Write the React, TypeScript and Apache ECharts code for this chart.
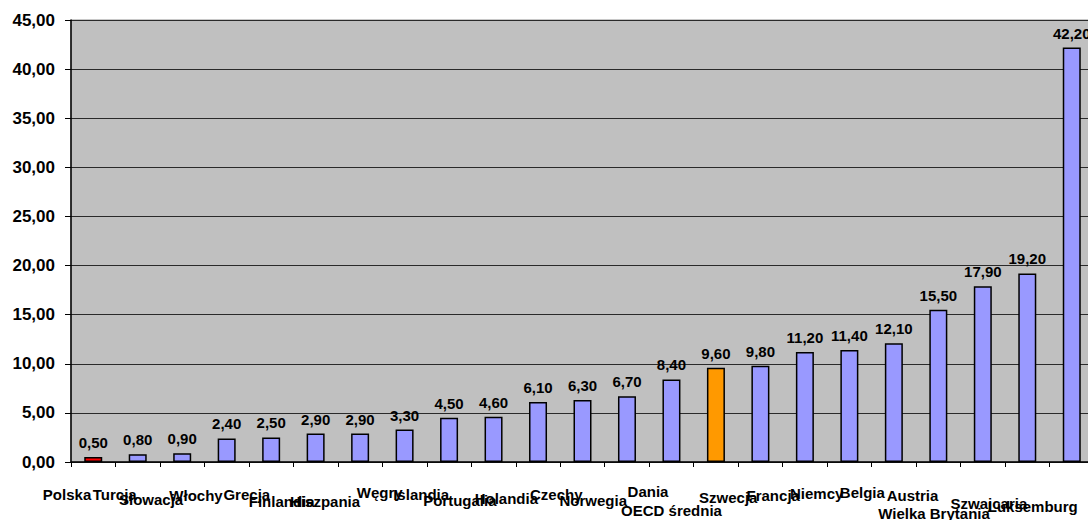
import React, { useEffect, useRef } from "react";
import * as echarts from "echarts";

const categories = [
  "Polska", "Turcja", "Słowacja", "Włochy", "Grecja", "Finlandia", "Hiszpania",
  "Węgry", "Islandia", "Portugalia", "Holandia", "Czechy", "Norwegia", "Dania",
  "OECD średnia", "Szwecja", "Francja", "Niemcy", "Belgia", "Austria",
  "Wielka Brytania", "Szwajcaria", "Luksemburg",
];
const values = [
  0.5, 0.8, 0.9, 2.4, 2.5, 2.9, 2.9, 3.3, 4.5, 4.6, 6.1, 6.3, 6.7, 8.4, 9.6,
  9.8, 11.2, 11.4, 12.1, 15.5, 17.9, 19.2, 42.2,
];
const yTicks = { min: 0, max: 45, interval: 5 };

// layout only: vertical drop of each category label below the axis (px)
const labelDrop = [
  25, 25, 30, 26, 25, 32, 32, 23, 25, 31, 29, 25, 31, 22, 41, 28, 26, 24, 23, 26, 44, 34, 37,
];
// layout only: horizontal nudge of each label's right end from the bar centre (px, + = right)
const labelShift = [
  -2, -1, 1, -4, -1, -1, 0, -2, 0, 3, 0, 0, 0, -3, 6, -3, -5, -6, -9, 0, 7, 0, 6,
];

const FONT = '"Liberation Sans", Arial, sans-serif';
const fmt = (v: number) => v.toFixed(2).replace(".", ",");

function barColor(name: string) {
  if (name === "Polska") return "#FF0000";
  if (name === "OECD średnia") return "#FF9900";
  return "#9999FF";
}

export default function App() {
  const ref = useRef<HTMLDivElement>(null);
  useEffect(() => {
    if (!ref.current) return;
    const chart = echarts.init(ref.current, undefined, { renderer: "svg" });
    chart.setOption({
      animation: false,
      backgroundColor: "#FFFFFF",
      textStyle: { fontFamily: FONT },
      grid: {
        left: 71,
        top: 20,
        right: -6,
        bottom: 58,
        containLabel: false,
        outerBoundsMode: "none",
        show: true,
        backgroundColor: "#C0C0C0",
        borderColor: "#909090",
        borderWidth: 1,
      },
      xAxis: {
        type: "category",
        data: categories.map((c, i) => ({
          value: c,
          textStyle: {
            align: "right",
            verticalAlign: "top",
            padding: [labelDrop[i], -labelShift[i], 0, 0],
            lineHeight: 15,
            fontSize: 15,
            fontWeight: "bold",
            color: "#000000",
            fontFamily: FONT,
          },
        })),
        boundaryGap: true,
        axisLine: { show: true, lineStyle: { color: "#000000", width: 1.5 } },
        axisTick: { show: true, alignWithLabel: false, length: 5, lineStyle: { color: "#000000", width: 1 } },
        axisLabel: {
          interval: 0,
          margin: 0,
          align: "right",
          verticalAlign: "top",
          lineHeight: 15,
          fontSize: 15,
          fontWeight: "bold",
          color: "#000000",
          fontFamily: FONT,
          hideOverlap: false,
        },
        splitLine: { show: false },
      },
      yAxis: {
        type: "value",
        min: yTicks.min,
        max: yTicks.max,
        interval: yTicks.interval,
        axisLine: { show: true, lineStyle: { color: "#000000", width: 1.5 } },
        axisTick: { show: true, inside: false, length: 6, lineStyle: { color: "#000000", width: 1 } },
        axisLabel: {
          margin: 16,
          fontSize: 17,
          fontWeight: "bold",
          color: "#000000",
          fontFamily: FONT,
          formatter: (v: number) => fmt(v),
        },
        splitLine: { show: true, lineStyle: { color: "#2a2a2a", width: 1 } },
      },
      series: [
        {
          type: "bar",
          barWidth: 18,
          data: values.map((v, i) => ({
            value: v,
            itemStyle: { color: barColor(categories[i]) },
          })),
          itemStyle: { borderColor: "#000000", borderWidth: 1.5 },
          label: {
            show: true,
            position: "top",
            distance: 7,
            fontSize: 15,
            fontWeight: "bold",
            color: "#000000",
            fontFamily: FONT,
            formatter: (p: any) => fmt(p.value),
          },
        },
      ],
    });
    return () => chart.dispose();
  }, []);
  return (
    <div
      ref={ref}
      style={{ position: "fixed", left: 0, top: 0, width: 1088, height: 520 }}
    />
  );
}
